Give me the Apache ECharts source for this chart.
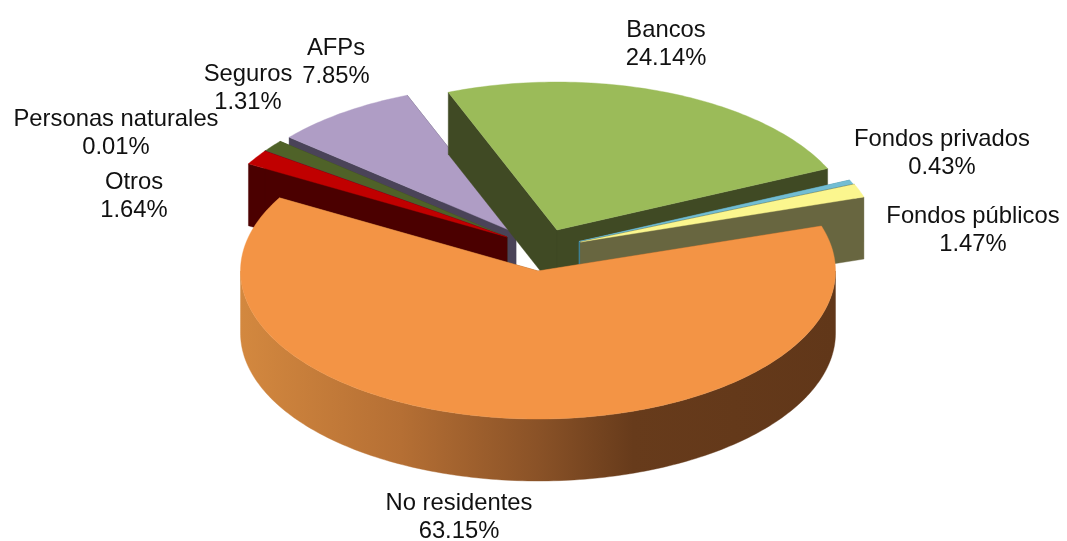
<!DOCTYPE html>
<html>
<head>
<meta charset="utf-8">
<style>html,body{margin:0;padding:0;background:#fff}#c{width:1067px;height:541px}</style>
<script src="https://cdn.jsdelivr.net/npm/echarts@6/dist/echarts.min.js"></script>
</head>
<body>
<div id="c"></div>
<script>
// Data, in clockwise pie order
var categories = ['No residentes','Otros','Personas naturales','Seguros','AFPs','Bancos','Fondos privados','Fondos públicos'];
var shares     = [63.15, 1.64, 0.01, 1.31, 7.85, 24.14, 0.43, 1.47];

// Styling
var topColors  = ['#f39445','#c00000','#59636e','#4f6228','#af9dc5','#9bbb59','#72bdd3','#fbf68e'];
var wallColors = ['#8a5526','#4b0000','#3a3f48','#3c4a1e','#4a4358','#404a24','#3f7f92','#686640'];
var apexX = [538,507,507,507,516,557,579,580.5];
var apexY = [271,237,237,237,233,230,241.5,242];
var labelX = [459,134,116,248,336,666,942,973];
var labelY = [517,196,133,88,62,44,153,230];
var paintOrder = [4,5,6,7,3,2,1,0];

var RX = 297.5, RY = 148, DEPTH = 62, START = -17.7;
var total = shares.reduce(function (a, b) { return a + b; }, 0);
var starts = [], acc = START;
shares.forEach(function (v) { starts.push(acc); acc += v / total * 360; });

function pt(i, deg, dy) {
  var t = deg * Math.PI / 180;
  return [apexX[i] + RX * Math.cos(t), apexY[i] + RY * Math.sin(t) + (dy || 0)];
}
function radial(i, deg) {
  var a = [apexX[i], apexY[i]], b = pt(i, deg);
  return [a, b, [b[0], b[1] + DEPTH], [a[0], a[1] + DEPTH]];
}
function poly(points, fill) {
  return { type: 'polygon', shape: { points: points }, style: { fill: fill, stroke: fill, lineWidth: 0.4 }, silent: true };
}
var sideGradient = new echarts.graphic.LinearGradient(0, 0, 1, 0, [
  { offset: 0, color: '#d3883f' },
  { offset: 0.27, color: '#b56f34' },
  { offset: 0.5, color: '#8a5227' },
  { offset: 0.66, color: '#673b1b' },
  { offset: 1, color: '#613719' }
]);

function renderSlice(params, api) {
  var i = api.value(0);
  var a0 = starts[i], a1 = a0 + shares[i] / total * 360;
  var children = [];
  children.push(poly(radial(i, a0), wallColors[i]));
  children.push(poly(radial(i, a1), wallColors[i]));
  // outer wall: the part of the rim that faces the viewer
  var lo = Math.max(a0, 0), hi = Math.min(a1, 180);
  if (hi > lo) {
    var up = [], down = [];
    for (var d = lo; d <= hi + 0.001; d += 1) { up.push(pt(i, d)); down.unshift(pt(i, d, DEPTH)); }
    children.push(poly(up.concat(down), i === 0 ? sideGradient : wallColors[i]));
  }
  // top face
  var face = [[apexX[i], apexY[i]]];
  var n = Math.max(2, Math.ceil(a1 - a0));
  for (var k = 0; k <= n; k++) face.push(pt(i, a0 + (a1 - a0) * k / n));
  children.push(poly(face, topColors[i]));
  return { type: 'group', children: children };
}
function renderLabel(params, api) {
  var i = api.value(0);
  return {
    type: 'text', silent: true,
    style: {
      x: labelX[i], y: labelY[i],
      text: categories[i] + '\n' + shares[i].toFixed(2) + '%',
      fill: '#111111', font: '23.8px "Liberation Sans", Arial, sans-serif',
      align: 'center', verticalAlign: 'middle', lineHeight: 28
    }
  };
}
var chart = echarts.init(document.getElementById('c'), null, { renderer: 'canvas' });
chart.setOption({
  animation: false,
  backgroundColor: '#fff',
  series: [
    { type: 'custom', coordinateSystem: 'none', renderItem: renderSlice,
      data: paintOrder.map(function (i) { return [i, shares[i]]; }) },
    { type: 'custom', coordinateSystem: 'none', renderItem: renderLabel,
      data: categories.map(function (c, i) { return [i, shares[i]]; }) }
  ]
});
</script>
</body>
</html>
